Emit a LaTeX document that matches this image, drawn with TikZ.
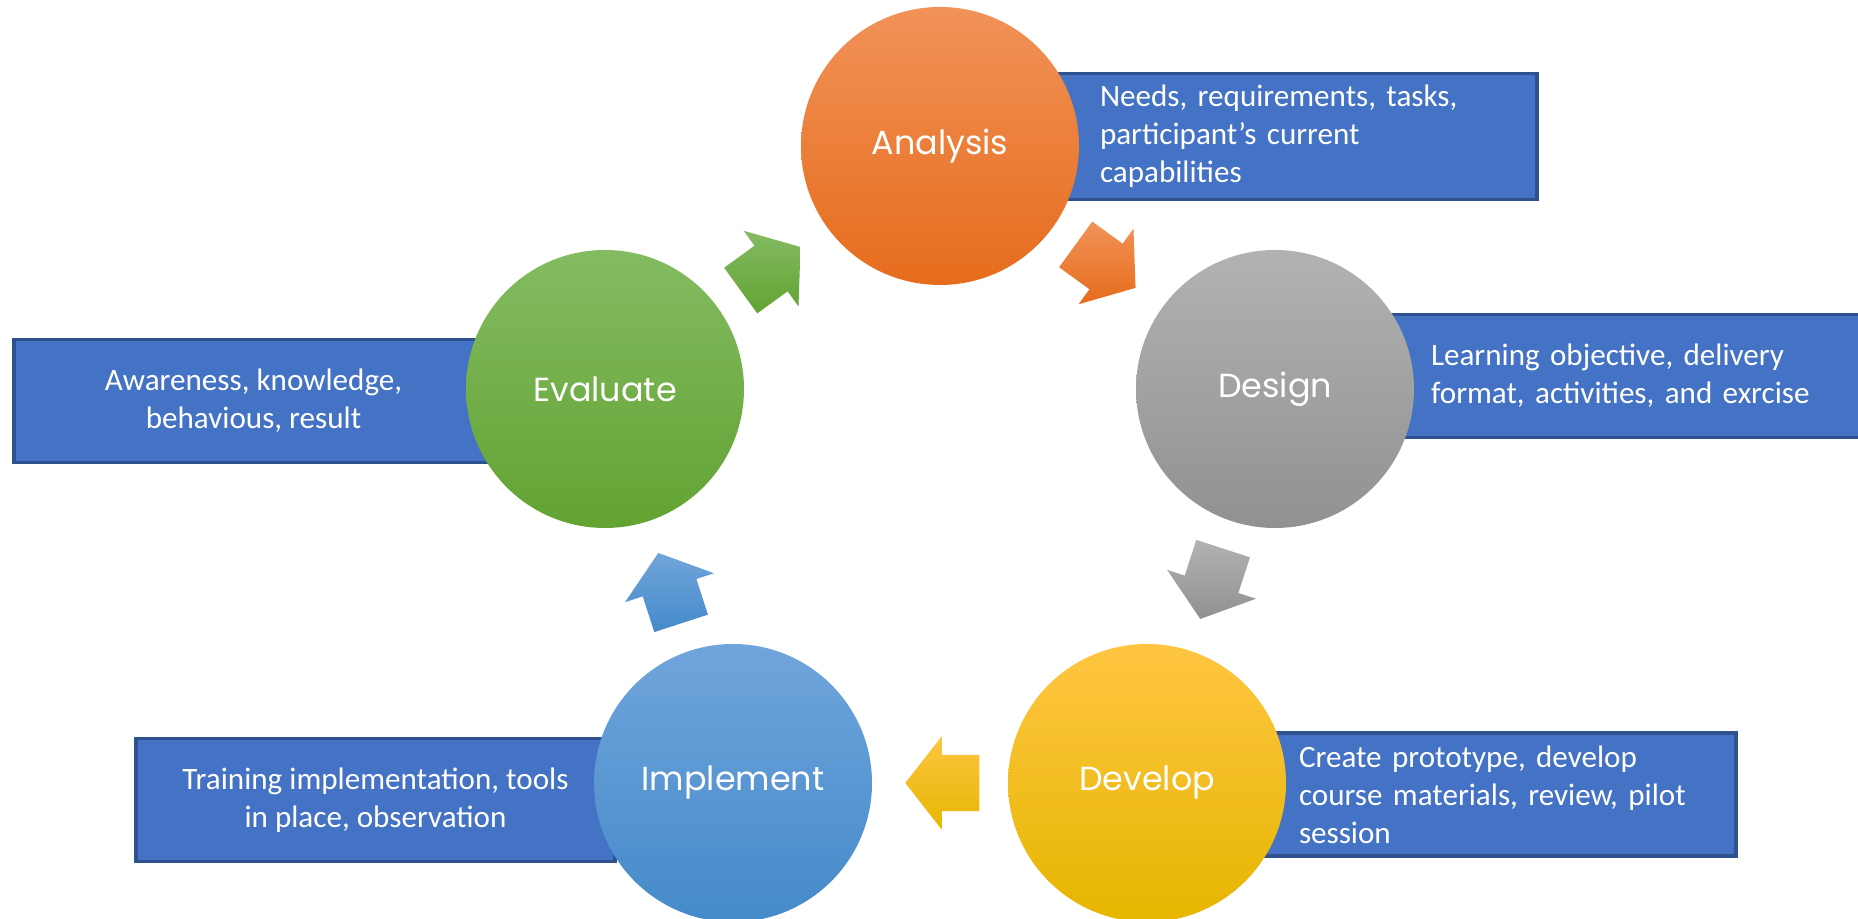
\documentclass[tikz,border=0pt]{standalone}
\usepackage{fontspec}
\setmainfont{Carlito}
\newfontfamily\stagefont{Poppins}
\usetikzlibrary{shapes.arrows,calc}

\definecolor{boxblue}{RGB}{68,114,196}
\definecolor{boxedge}{RGB}{47,82,143}
\definecolor{anaTop}{RGB}{241,146,88}
\definecolor{anaBot}{RGB}{230,108,28}
\definecolor{desTop}{RGB}{178,178,178}
\definecolor{desBot}{RGB}{145,145,145}
\definecolor{devTop}{RGB}{255,197,66}
\definecolor{devBot}{RGB}{230,182,0}
\definecolor{impTop}{RGB}{112,165,219}
\definecolor{impBot}{RGB}{68,138,202}
\definecolor{evaTop}{RGB}{132,187,98}
\definecolor{evaBot}{RGB}{98,163,50}

\tikzset{
  stage/.style={circle, minimum size=2.78cm, inner sep=0pt, text=white,
    font=\stagefont\fontsize{9.5}{11}\selectfont},
  infobox/.style={rectangle, draw=boxedge, line width=0.9pt, fill=boxblue,
    minimum width=4.79cm, minimum height=1.23cm, text=white,
    font=\fontsize{8.85}{10.8}\selectfont},
  rightbox/.style={infobox, text width=3.95cm, inner xsep=0.42cm, align=left},
  leftbox/.style={infobox, align=center},
  flowarrow/.style={single arrow, anchor=tail, minimum height=0.74cm, minimum width=0pt,
    single arrow head extend=0.185cm, single arrow tip angle=104,
    inner xsep=0pt, inner ysep=0.275cm}
}

\begin{document}
\begin{tikzpicture}
 \useasboundingbox (0,0) rectangle (18.58,9.19);

 % text boxes behind the circles
 \node[rightbox] (anabox) at (12.975,7.825) {Needs, requirements, tasks,\\participant’s current\\capabilities};
 \node[rightbox] (desbox) at (16.285,5.43) {Learning objective, delivery\\format, activities, and exrcise};
 \node[rightbox] (devbox) at (14.965,1.245) {Create prototype, develop\\course materials, review, pilot\\session};
 \node[leftbox] (impbox) at (3.755,1.19) {Training implementation, tools\\in place, observation};
 \node[leftbox] (evabox) at (2.535,5.18) {Awareness, knowledge,\\behavious, result};

 % stages
 \node[stage, top color=anaTop, bottom color=anaBot] (analysis) at (9.40,7.73) {Analysis};
 \node[stage, top color=desTop, bottom color=desBot] (design) at (12.75,5.30) {Design};
 \node[stage, top color=devTop, bottom color=devBot] (develop) at (11.47,1.36) {Develop};
 \node[stage, top color=impTop, bottom color=impBot] (implement) at (7.33,1.36) {Implement};
 \node[stage, top color=evaTop, bottom color=evaBot] (evaluate) at (6.05,5.30) {Evaluate};

 % block arrows between stages
 \node[flowarrow, rotate=-36, shading angle=36, top color=anaTop, bottom color=anaBot] (anatodes) at ($(analysis)!0.5!(design)!0.40cm!(analysis)$) {};
 \node[flowarrow, rotate=-108, shading angle=108, top color=desTop, bottom color=desBot] (destodev) at ($(design)!0.5!(develop)!0.40cm!(design)$) {};
 \node[flowarrow, rotate=180, shading angle=-180, top color=devTop, bottom color=devBot] (devtoimp) at ($(develop)!0.5!(implement)!0.40cm!(develop)$) {};
 \node[flowarrow, rotate=108, shading angle=-108, top color=impTop, bottom color=impBot] (imptoeva) at ($(implement)!0.5!(evaluate)!0.40cm!(implement)$) {};
 \node[flowarrow, rotate=36, shading angle=-36, top color=evaTop, bottom color=evaBot] (evatoana) at ($(evaluate)!0.5!(analysis)!0.40cm!(evaluate)$) {};
\end{tikzpicture}
\end{document}
